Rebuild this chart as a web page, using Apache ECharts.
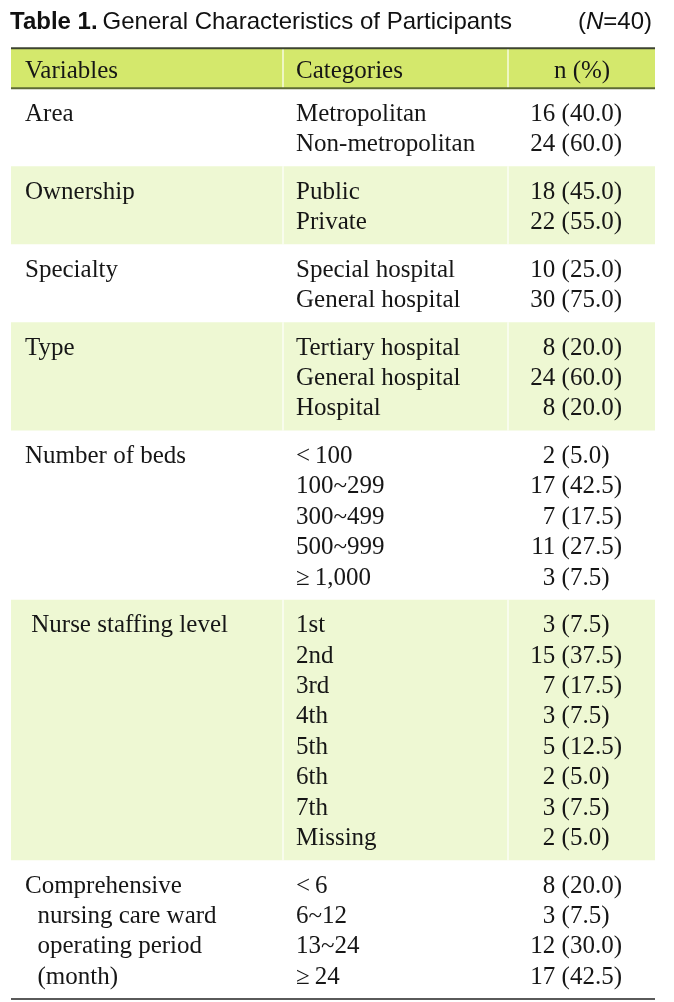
<!DOCTYPE html>
<html><head><meta charset="utf-8">
<script src="https://cdn.jsdelivr.net/npm/echarts@6/dist/echarts.min.js"></script>
<style>html,body{margin:0;padding:0;background:#fff}#c{width:674px;height:1002px}</style>
</head><body><div id="c"></div>
<script>
// ---- data ----
const titleBold = 'Table 1.';
const titleText = 'General Characteristics of Participants';
const titleN = '40';
const headers = ['Variables', 'Categories', 'n (%)'];
const variables = [
  ['Area'], ['Ownership'], ['Specialty'], ['Type'], ['Number of beds'], [' Nurse staffing level'],
  ['Comprehensive', '  nursing care ward', '  operating period', '  (month)']
];
const categories = [
  ['Metropolitan', 'Non-metropolitan'],
  ['Public', 'Private'],
  ['Special hospital', 'General hospital'],
  ['Tertiary hospital', 'General hospital', 'Hospital'],
  ['<\u2009100', '100~299', '300~499', '500~999', '\u2265\u20091,000'],
  ['1st', '2nd', '3rd', '4th', '5th', '6th', '7th', 'Missing'],
  ['<\u20096', '6~12', '13~24', '\u2265\u200924']
];
const counts = [[16, 24], [18, 22], [10, 30], [8, 24, 8], [2, 17, 7, 11, 3], [3, 15, 7, 3, 5, 2, 3, 2], [8, 3, 12, 17]];
const percents = [[40.0, 60.0], [45.0, 55.0], [25.0, 75.0], [20.0, 60.0, 20.0], [5.0, 42.5, 17.5, 27.5, 7.5],
  [7.5, 37.5, 17.5, 7.5, 12.5, 5.0, 7.5, 5.0], [20.0, 7.5, 30.0, 42.5]];
const shaded = [false, true, false, true, false, true, false];

// ---- layout (styles) ----
const W = 674, H = 1002;
const ROW_PX = 30.4;
const FIRST_ROW_PX = 112;
const GAP = 0.566;
const HALF = (1 + GAP) / 2;
const HEADER_ROW = -1.40;
const HEADER_TOP = -2.10;
const TEXT_DY = 2;
const TABLE_L = 11, TABLE_R = 655;
const COL_X = [25, 296];
const NUM_RIGHT = 622;
const DIV_X = [283, 508];
const BODY_FONT = '25px "Liberation Serif", serif';
const TEXT_COLOR = '#161616';
const SANS = '"Liberation Sans", Arial, sans-serif';
const lineColors = ['#3d4330', '#5d6a35', '#5a5a5a'];

const rowPos = [];
let r = 0;
categories.forEach((cats, g) => {
  const arr = [];
  cats.forEach(() => { arr.push(r + g * GAP); r++; });
  rowPos.push(arr);
});
const lastRow = rowPos[rowPos.length - 1][rowPos[rowPos.length - 1].length - 1];

const bandData = [[HEADER_TOP, -HALF, 2]];
rowPos.forEach((rows, g) => {
  bandData.push([rows[0] - HALF, rows[rows.length - 1] + HALF, shaded[g] ? 1 : 0]);
});

const textData = [];
textData.push([HEADER_ROW, 0, headers[0], 'l']);
textData.push([HEADER_ROW, 1, headers[1], 'l']);
textData.push([HEADER_ROW, 2, headers[2], 'hc']);
rowPos.forEach((rows, g) => {
  variables[g].forEach((v, i) => textData.push([rows[i], 0, v, 'l']));
  categories[g].forEach((c, i) => textData.push([rows[i], 1, c, 'l']));
  counts[g].forEach((n, i) => {
    const p = percents[g][i];
    textData.push([rows[i], 2, n + ' (' + p.toFixed(1) + ')', p < 10 ? 'r1' : 'r']);
  });
});

const yMin = -FIRST_ROW_PX / ROW_PX;
const yMax = (H - FIRST_ROW_PX) / ROW_PX;

const measureCtx = document.createElement('canvas').getContext('2d');
measureCtx.font = BODY_FONT;
const digitW = measureCtx.measureText('0').width;

const chart = echarts.init(document.getElementById('c'), null, { renderer: 'canvas' });
chart.setOption({
  animation: false,
  title: [
    {
      left: 5, top: 2,
      text: '{b|' + titleBold + '} {r|' + titleText + '}',
      textStyle: {
        fontWeight: 'normal',
        rich: {
          b: { fontFamily: SANS, fontWeight: 'bold', fontSize: 24, color: '#111', lineHeight: 30 },
          r: { fontFamily: SANS, fontWeight: 'normal', fontSize: 24, color: '#111', lineHeight: 30 }
        }
      }
    },
    {
      right: 17, top: 2,
      text: '{r|(}{i|N}{r|=' + titleN + ')}',
      textStyle: {
        fontWeight: 'normal',
        rich: {
          r: { fontFamily: SANS, fontWeight: 'normal', fontSize: 24, color: '#111', lineHeight: 30 },
          i: { fontFamily: SANS, fontWeight: 'normal', fontStyle: 'italic', fontSize: 24, color: '#111', lineHeight: 30 }
        }
      }
    }
  ],
  grid: { left: 0, right: 0, top: 0, bottom: 0 },
  xAxis: { type: 'value', min: 0, max: W, show: false },
  yAxis: { type: 'value', inverse: true, min: yMin, max: yMax, show: false },
  series: [
    {
      type: 'custom',
      coordinateSystem: 'cartesian2d',
      data: bandData,
      silent: true,
      z: 1,
      renderItem: function (params, api) {
        const top = api.coord([0, api.value(0)])[1];
        const bot = api.coord([0, api.value(1)])[1];
        const kind = api.value(2);
        const children = [];
        if (kind > 0) {
          children.push({
            type: 'rect',
            shape: { x: TABLE_L, y: top, width: TABLE_R - TABLE_L, height: bot - top },
            style: { fill: kind === 2 ? '#d4e86c' : '#eef8d3' }
          });
          DIV_X.forEach(x => children.push({
            type: 'line',
            shape: { x1: x, y1: top, x2: x, y2: bot },
            style: { stroke: '#ffffff', lineWidth: 1.2 }
          }));
        }
        return { type: 'group', children: children };
      }
    },
    {
      type: 'custom',
      coordinateSystem: 'cartesian2d',
      data: [[HEADER_TOP, 0], [-HALF, 1], [lastRow + HALF, 2]],
      silent: true,
      z: 3,
      renderItem: function (params, api) {
        const y = api.coord([0, api.value(0)])[1];
        return {
          type: 'line',
          shape: { x1: TABLE_L, y1: y, x2: TABLE_R, y2: y },
          style: { stroke: lineColors[params.dataIndex], lineWidth: 2 }
        };
      }
    },
    {
      type: 'custom',
      coordinateSystem: 'cartesian2d',
      data: textData.map(d => [d[0], d[1]]),
      silent: true,
      z: 4,
      renderItem: function (params, api) {
        const d = textData[params.dataIndex];
        const y = api.coord([0, d[0]])[1] + TEXT_DY;
        let x, align;
        if (d[1] < 2) { x = COL_X[d[1]]; align = 'left'; }
        else if (d[3] === 'hc') { x = 582; align = 'center'; }
        else if (d[3] === 'r1') { x = NUM_RIGHT - digitW; align = 'right'; }
        else { x = NUM_RIGHT; align = 'right'; }
        return {
          type: 'text',
          x: x, y: y,
          style: {
            text: d[2], font: BODY_FONT, fill: TEXT_COLOR,
            align: align, verticalAlign: 'middle',
            textAlign: align, textVerticalAlign: 'middle'
          }
        };
      }
    }
  ]
});
</script>
</body></html>
